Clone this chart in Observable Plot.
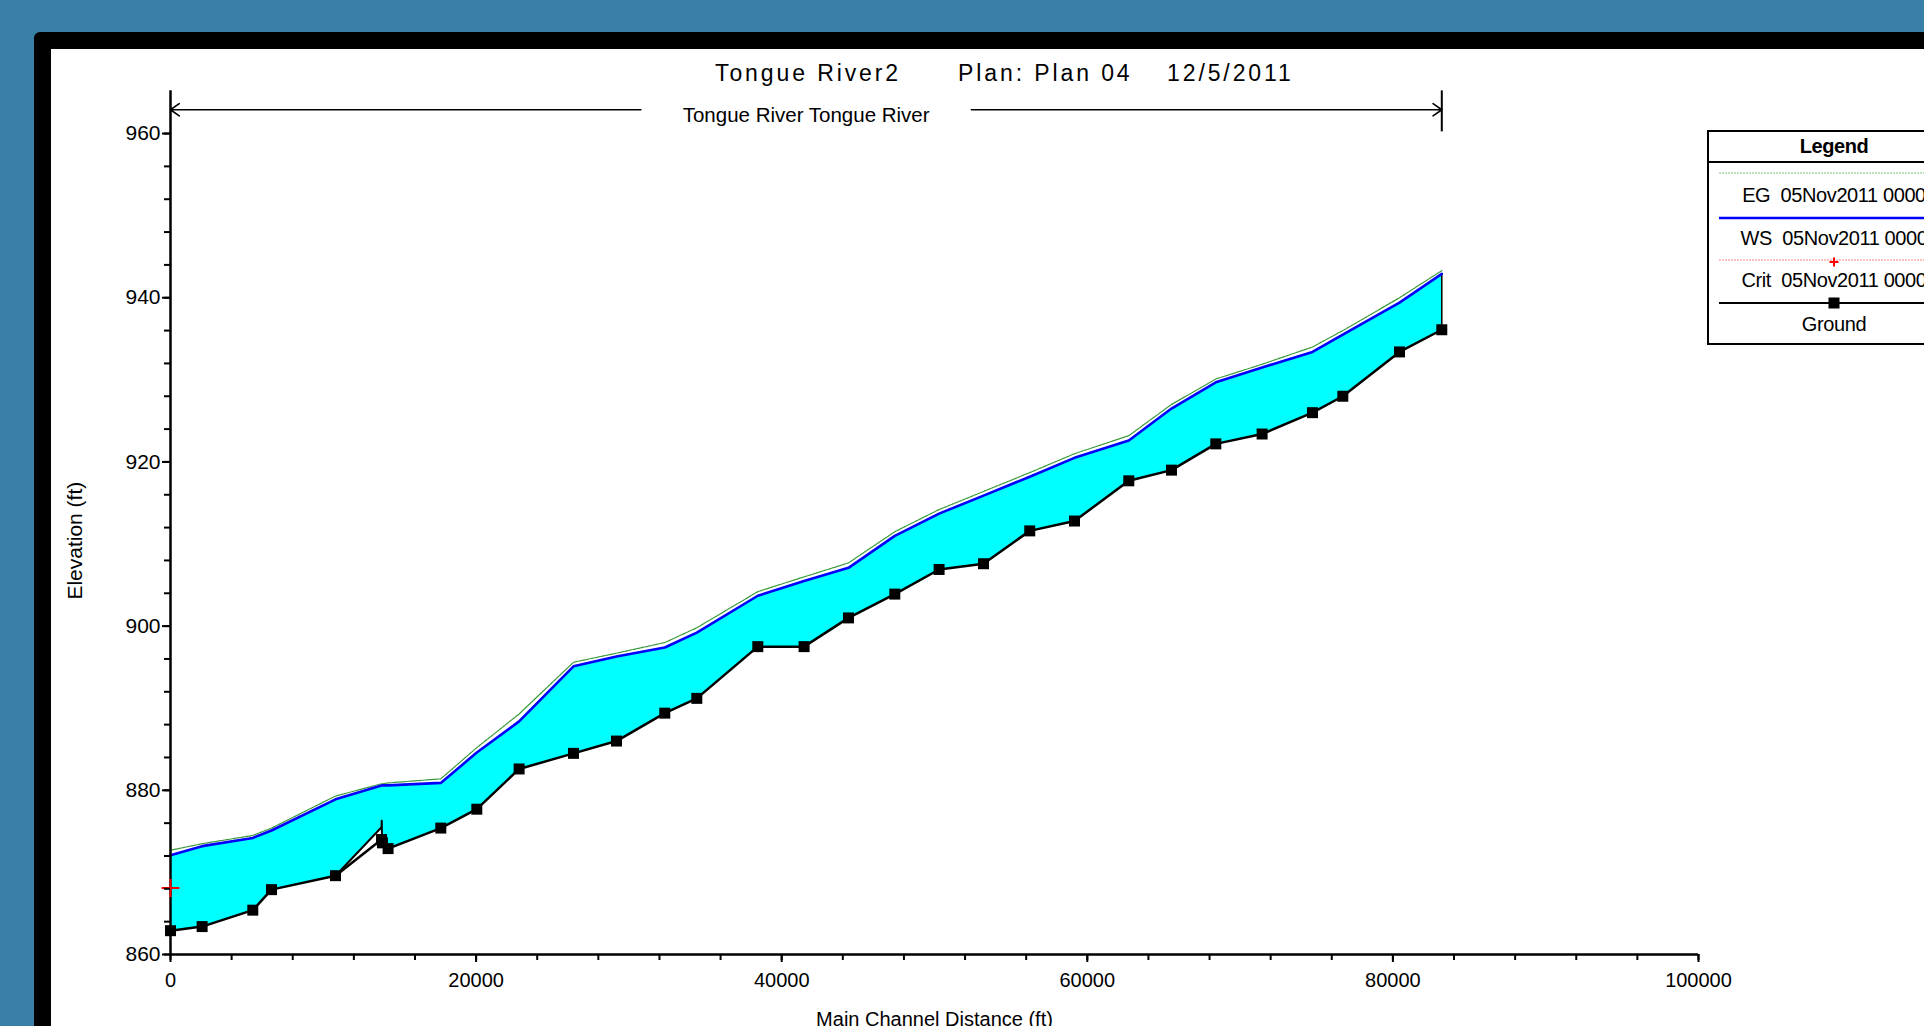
<!DOCTYPE html>
<html><head><meta charset="utf-8">
<script src="https://cdn.jsdelivr.net/npm/d3@7"></script>
<script src="https://cdn.jsdelivr.net/npm/@observablehq/plot@0.6"></script>
<style>
html,body{margin:0;padding:0;width:1924px;height:1026px;overflow:hidden;background:#3880a8;font-family:Arial,"Liberation Sans",sans-serif;}
#frame{position:absolute;left:34px;top:32px;width:2000px;height:1100px;border:17px solid #000;border-radius:6px;background:#fff;}
#chart{position:absolute;left:0;top:0;}
#title span{position:absolute;top:62px;font-size:23px;line-height:23px;letter-spacing:2.9px;white-space:pre;color:#000;}
#legend{position:absolute;left:1707px;top:130px;overflow:visible;}
#legend text{letter-spacing:-0.4px;}
</style></head><body>
<div id="frame"></div>
<div id="title"></div>
<div id="chart"></div>
<svg id="legend" width="260" height="220"></svg>
<script>
// ---- data ----
const titleParts = ["Tongue River2", "Plan: Plan 04", "12/5/2011"];
const reachName = "Tongue River Tongue River";
const yLabel = "Elevation (ft)";
const xLabel = "Main Channel Distance (ft)";
const stations = [0, 2070, 5386, 6610, 10800, 13810, 13870, 14240, 17690, 20046, 22815, 26375, 29188, 32349, 34444, 38436, 41466, 44372, 47402, 50301, 53207, 56234, 59162, 62716, 65510, 68410, 71440, 74738, 76722, 80432, 83200];
const groundElev = [862.9, 863.4, 865.4, 867.9, 869.6, 874.0, 873.6, 872.9, 875.4, 877.7, 882.6, 884.5, 886.0, 889.4, 891.2, 897.5, 897.5, 901.0, 903.9, 906.9, 907.6, 911.6, 912.8, 917.7, 919.0, 922.2, 923.4, 926.0, 928.0, 933.4, 936.1];
const wsElev = [872.1, 873.2, 874.2, 875.1, 878.9, 880.6, 880.6, 880.6, 880.9, 884.6, 888.4, 895.1, 896.3, 897.4, 899.2, 903.7, 905.5, 907.1, 911.0, 913.7, 915.9, 918.2, 920.5, 922.6, 926.5, 929.7, 931.5, 933.4, 935.5, 939.4, 942.9];
const egElev = [872.7, 873.5, 874.5, 875.4, 879.3, 880.8, 880.8, 880.9, 881.4, 885.2, 889.3, 895.6, 896.7, 898.0, 899.8, 904.2, 906.0, 907.7, 911.5, 914.2, 916.4, 918.7, 921.0, 923.2, 927.0, 930.1, 931.9, 934.0, 936.0, 940.0, 943.3];
const critStation = [0];
const critElev = [868.1];
const bridgeStation = [10800, 13810, 13825, 13845];
const bridgeElev = [869.6, 875.5, 876.3, 873.9];
const xTicks = [0, 20000, 40000, 60000, 80000, 100000];
const yTicks = [860, 880, 900, 920, 940, 960];
const xDomain = [0, 100000];
const yDomain = [860, 965.2];
const reachLineElev = 962.9;
const reachBarElev = [960.2, 965.2];
const legendLabels = ["EG  05Nov2011 0000", "WS  05Nov2011 0000", "Crit  05Nov2011 0000", "Ground"];
const legendColors = ["#7cc47c", "#0000ff", "#f08080", "#000000"];

// ---- tables ----
const bridgeAt = new Map(bridgeStation.map((s, i) => [s, bridgeElev[i]]));
const rows = stations.map((s, i) => ({
  s, g: groundElev[i], ws: wsElev[i], eg: egElev[i],
  bottom: Math.max(groundElev[i], bridgeAt.has(s) ? bridgeAt.get(s) : -Infinity)
}));
const bridge = bridgeStation.map((s, i) => ({s, e: bridgeElev[i]}));
const crit = critStation.map((s, i) => ({s, e: critElev[i]}));
const reachStart = stations[0], reachEnd = stations[stations.length - 1];
const reachMid = (reachStart + reachEnd) / 2;
const gapHalf = 0.13 * (reachEnd - reachStart);
const arrows = [
  {x1: reachMid - gapHalf, x2: reachStart},
  {x1: reachMid + gapHalf, x2: reachEnd}
];

// title (three parts spaced as in the reference)
const titleLeft = [715, 958, 1167];
titleParts.forEach((t, i) => {
  const sp = document.createElement("span");
  sp.textContent = t;
  sp.style.left = titleLeft[i] + "px";
  document.getElementById("title").appendChild(sp);
});

const fmtX = d => xTicks.includes(d) ? String(d) : "";
const fmtY = d => yTicks.includes(d) ? String(d) : "";

const chart = Plot.plot({
  width: 1924, height: 1026,
  marginLeft: 170, marginRight: 226, marginTop: 92 - 0.2 * 8.21, marginBottom: 72,
  style: {background: "transparent", fontFamily: "Arial, 'Liberation Sans', sans-serif", fontSize: "21px", color: "#000", overflow: "visible"},
  x: {domain: xDomain},
  y: {domain: yDomain},
  marks: [
    Plot.areaY(rows, {x: "s", y1: "bottom", y2: "ws", fill: "#00ffff"}),
    Plot.ruleX(rows.slice(-1), {x: "s", y1: "g", y2: "ws", stroke: "#000", strokeWidth: 1.5}),
    Plot.line(rows, {x: "s", y: "eg", stroke: "#3a9a3a", strokeWidth: 1.2, strokeDasharray: "3,1"}),
    Plot.line(rows, {x: "s", y: "ws", stroke: "#0000ff", strokeWidth: 2.6}),
    Plot.ruleY([yDomain[0]], {stroke: "#000", strokeWidth: 2.5}),
    Plot.ruleX([xDomain[0]], {stroke: "#000", strokeWidth: 2.5}),
    Plot.line(bridge, {x: "s", y: "e", stroke: "#000", strokeWidth: 2}),
    Plot.line(rows, {x: "s", y: "g", stroke: "#000", strokeWidth: 2.5}),
    Plot.dot(rows, {x: "s", y: "g", symbol: "square", fill: "#000", r: 6.2}),
    Plot.dot(crit, {x: "s", y: "e", symbol: "plus", stroke: "#ff0000", strokeWidth: 2, r: 5.8}),
    // minor ticks
    Plot.axisX({ticks: d3.range(xDomain[0], xDomain[1] + 1, 4000), tickFormat: () => "", tickSize: 6, strokeWidth: 2, label: null}),
    Plot.axisY({ticks: d3.range(yDomain[0], 961, 4), tickFormat: () => "", tickSize: 6, strokeWidth: 2, label: null}),
    // major ticks + labels
    Plot.axisX({ticks: xTicks, tickFormat: fmtX, tickSize: 8, tickPadding: 10, strokeWidth: 2, fontSize: 20, letterSpacing: -0.4,
      label: xLabel, labelAnchor: "center", labelArrow: "none", labelOffset: 71}),
    Plot.axisY({ticks: yTicks, tickFormat: fmtY, tickSize: 8, tickPadding: 2, strokeWidth: 2, fontSize: 21, letterSpacing: -0.9, label: null}),
    Plot.text([yLabel], {frameAnchor: "left", text: d => d, textAnchor: "middle", lineAnchor: "middle", rotate: -90, dx: -95, dy: 18, fontSize: 21, letterSpacing: 0.6}),
    Plot.arrow(arrows, {x1: "x1", x2: "x2", y1: () => reachLineElev, y2: () => reachLineElev, bend: 0, headLength: 10, headAngle: 70, stroke: "#000", strokeWidth: 1.6}),
    Plot.text([reachName], {x: () => reachMid, y: () => reachLineElev, text: d => d, fontSize: 20.5, letterSpacing: -0.3, dy: 5.5, textAnchor: "middle"}),
    Plot.ruleX([reachEnd], {y1: reachBarElev[0], y2: reachBarElev[1], stroke: "#000", strokeWidth: 2})
  ]
});
document.getElementById("chart").appendChild(chart);

// ---- legend ----
const lg = d3.select("#legend");
lg.append("rect").attr("x", 1).attr("y", 1).attr("width", 320).attr("height", 213).attr("fill", "#fff").attr("stroke", "#000").attr("stroke-width", 2);
lg.append("line").attr("x1", 1).attr("x2", 320).attr("y1", 32).attr("y2", 32).attr("stroke", "#000").attr("stroke-width", 2);
lg.append("text").attr("x", 127).attr("y", 16).attr("dy", "0.35em").attr("text-anchor", "middle")
  .attr("font-size", 20).attr("font-weight", "bold").text("Legend");
const rowY = [43, 88, 130, 173];
const textY = [65, 108, 150, 194];
legendLabels.forEach((lab, i) => {
  const y = rowY[i];
  const ln = lg.append("line").attr("x1", 12).attr("x2", 320).attr("y1", y).attr("y2", y).attr("stroke", legendColors[i]);
  if (i === 0) ln.attr("stroke-width", 1.2).attr("stroke-dasharray", "2,1");
  if (i === 1) ln.attr("stroke-width", 2.5);
  if (i === 2) ln.attr("stroke-width", 1).attr("stroke-dasharray", "2,1");
  if (i === 3) ln.attr("stroke-width", 2);
  if (i === 2) lg.append("path").attr("d", `M${127-4.5},${y+2}h9M127,${y-2.5}v9`).attr("stroke", "#ff0000").attr("stroke-width", 2);
  if (i === 3) lg.append("rect").attr("x", 127 - 5.5).attr("y", y - 5.5).attr("width", 11).attr("height", 11).attr("fill", "#000");
  lg.append("text").attr("x", 127).attr("y", textY[i]).attr("dy", "0.35em").attr("text-anchor", "middle")
    .attr("font-size", 20).style("white-space", "pre").text(lab);
});
</script>
</body></html>
